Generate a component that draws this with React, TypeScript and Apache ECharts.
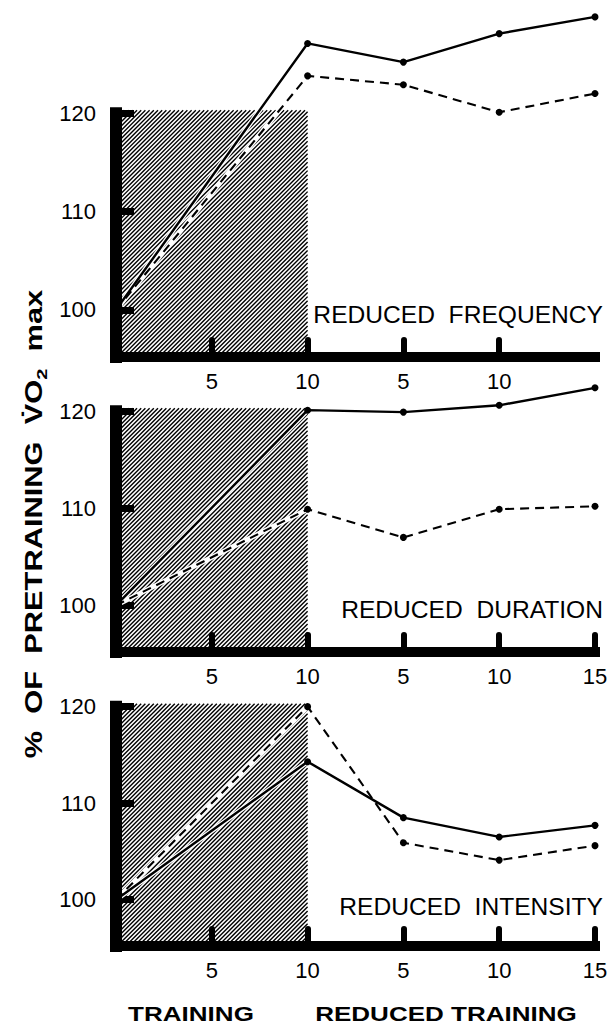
import React, { useEffect, useRef } from 'react';
import * as echarts from 'echarts';

// ---- data ----
const weeks = [0, 10, 15, 20, 25]; // 0-10 training weeks, 15-25 = reduced training weeks 5,10,15
const tickValues = [5, 10, 15, 20, 25];
const tickLabels = ['5', '10', '5', '10', '15'];
const yTicks = [100, 110, 120];

const freqSolid = [100, 127.1, 125.2, 128.1, 129.8];
const freqDashed = [100, 123.8, 122.9, 120.1, 122.0];
const durSolid = [100, 120.1, 119.9, 120.6, 122.4];
const durDashed = [100, 109.9, 107.0, 109.9, 110.2];
const intSolid = [100, 114.3, 108.5, 106.5, 107.7];
const intDashed = [100, 120.0, 105.9, 104.1, 105.6];

const panelNames = ['REDUCED  FREQUENCY', 'REDUCED  DURATION', 'REDUCED  INTENSITY'];
const yTitle = '%  OF  PRETRAINING  ';
const bottomNames = ['TRAINING', 'REDUCED TRAINING'];
const trainingEnd = 10;
const hatchTop = 120;

const FONT = '"Liberation Sans", Arial, sans-serif';

const panels = [
  { solid: freqSolid, dashed: freqDashed, name: panelNames[0], top: 11, height: 346, min: 95.2, max: 130.4, xTicks: [5, 10, 15, 20], labelY: 315 },
  { solid: durSolid, dashed: durDashed, name: panelNames[1], top: 382, height: 270, min: 95.2, max: 123, xTicks: tickValues, labelY: 610 },
  { solid: intSolid, dashed: intDashed, name: panelNames[2], top: 697, height: 249, min: 95.2, max: 121, xTicks: tickValues, labelY: 907 },
];

function hatchRender(params: any, api: any) {
  const x0v = api.value(0), x1v = api.value(1), y0v = api.value(2), y1v = api.value(3);
  const tl = api.coord([x0v, y1v]);
  const br = api.coord([x1v, y0v]);
  const left = tl[0], top = tl[1] - 3, right = br[0], bottom = br[1];
  const step = 4.2;
  const children: any[] = [];
  for (let c = left + top; c <= right + bottom; c += step) {
    const sx = Math.max(left, c - bottom);
    const ex = Math.min(right, c - top);
    if (ex - sx > 0.3) {
      children.push({
        type: 'line',
        shape: { x1: sx, y1: c - sx, x2: ex, y2: c - ex },
        style: { stroke: '#000', lineWidth: 1.4 },
        silent: true,
      });
    }
  }
  return { type: 'group', children };
}

export default function App() {
  const ref = useRef<HTMLDivElement>(null);
  useEffect(() => {
    document.body.style.margin = '0';
    const chart = echarts.init(ref.current!, null, { renderer: 'svg' });
    const grid: any[] = [];
    const xAxis: any[] = [];
    const yAxis: any[] = [];
    const series: any[] = [];
    const graphic: any[] = [];

    panels.forEach((p, i) => {
      grid.push({ left: 116, right: 18, top: p.top, height: p.height });
      xAxis.push({
        type: 'value', gridIndex: i, min: 0, max: 25,
        splitLine: { show: false },
        axisLine: { show: true, lineStyle: { color: '#000', width: 10, cap: 'square' } },
        axisTick: { show: true, inside: true, length: 17, customValues: p.xTicks, lineStyle: { color: '#000', width: 6, cap: 'round' } },
        axisLabel: {
          customValues: p.xTicks, margin: 13, color: '#000', fontSize: 22, fontFamily: FONT,
          formatter: (v: number) => tickLabels[tickValues.indexOf(v)],
        },
      });
      yAxis.push({
        type: 'value', gridIndex: i, min: p.min, max: p.max,
        splitLine: { show: false },
        axisLine: { show: false },
        axisTick: { show: true, inside: true, length: 18, customValues: yTicks, lineStyle: { color: '#000', width: 7 } },
        axisLabel: { customValues: yTicks, margin: 20, color: '#000', fontSize: 22, fontFamily: FONT },
      });
      series.push({
        type: 'custom', xAxisIndex: i, yAxisIndex: i, z: 1, silent: true, clip: false,
        renderItem: hatchRender,
        encode: { x: [0, 1], y: [2, 3] },
        data: [[0, trainingEnd, p.min, hatchTop]],
      });
      const trainIdx = weeks.map((w, k) => k).filter((k) => weeks[k] <= trainingEnd);
      [p.solid, p.dashed].forEach((vals) => {
        series.push({
          type: 'line', xAxisIndex: i, yAxisIndex: i, z: 2, silent: true, symbol: 'none',
          lineStyle: { color: '#fff', width: 5 },
          data: trainIdx.map((k) => [weeks[k], vals[k]]),
        });
      });
      series.push({
        type: 'line', xAxisIndex: i, yAxisIndex: i, z: 3, silent: true,
        symbol: 'circle', symbolSize: (v: number[]) => (v[0] === 0 ? 0 : 7),
        itemStyle: { color: '#000' },
        lineStyle: { color: '#000', width: 2.4 },
        data: weeks.map((w, k) => [w, p.solid[k]]),
      });
      series.push({
        type: 'line', xAxisIndex: i, yAxisIndex: i, z: 3, silent: true,
        symbol: 'circle', symbolSize: (v: number[]) => (v[0] === 0 ? 0 : 7),
        itemStyle: { color: '#000' },
        lineStyle: { color: '#000', width: 2.1, type: [9, 6] },
        data: weeks.map((w, k) => [w, p.dashed[k]]),
      });
      series.push({
        type: 'line', xAxisIndex: i, yAxisIndex: i, z: 4, silent: true, clip: false,
        symbol: 'none',
        lineStyle: { color: '#000', width: 12, cap: 'square' },
        data: [[0, p.min], [0, hatchTop]],
      });
      graphic.push({
        type: 'text', x: 603, y: p.labelY, scaleX: 1.07,
        style: { text: p.name, fill: '#000', font: `23px ${FONT}`, align: 'right', verticalAlign: 'middle' },
      });
    });

    graphic.push({
      type: 'text', x: 34, y: 524, rotation: Math.PI / 2, scaleX: 1.34,
      style: {
        text: `{a|${yTitle}}{a|V\u0307O}{s|2}{a|  max}`,
        align: 'center', verticalAlign: 'middle', fill: '#000',
        rich: {
          a: { fontSize: 23, fontWeight: 'bold', fontFamily: FONT, lineHeight: 30, fill: '#000' },
          s: { fontSize: 15, fontWeight: 'bold', fontFamily: FONT, lineHeight: 16, verticalAlign: 'bottom', fill: '#000' },
        },
      },
    });
    graphic.push({
      type: 'text', x: 191, y: 1014, scaleX: 1.24,
      style: { text: bottomNames[0], fill: '#000', font: `bold 21px ${FONT}`, align: 'center', verticalAlign: 'middle' },
    });
    graphic.push({
      type: 'text', x: 446, y: 1014, scaleX: 1.24,
      style: { text: bottomNames[1], fill: '#000', font: `bold 21px ${FONT}`, align: 'center', verticalAlign: 'middle' },
    });

    chart.setOption({
      animation: false,
      backgroundColor: '#fff',
      grid, xAxis, yAxis, series, graphic,
    });
    return () => chart.dispose();
  }, []);
  return <div ref={ref} style={{ position: 'absolute', left: 0, top: 0, width: 613, height: 1029 }} />;
}
